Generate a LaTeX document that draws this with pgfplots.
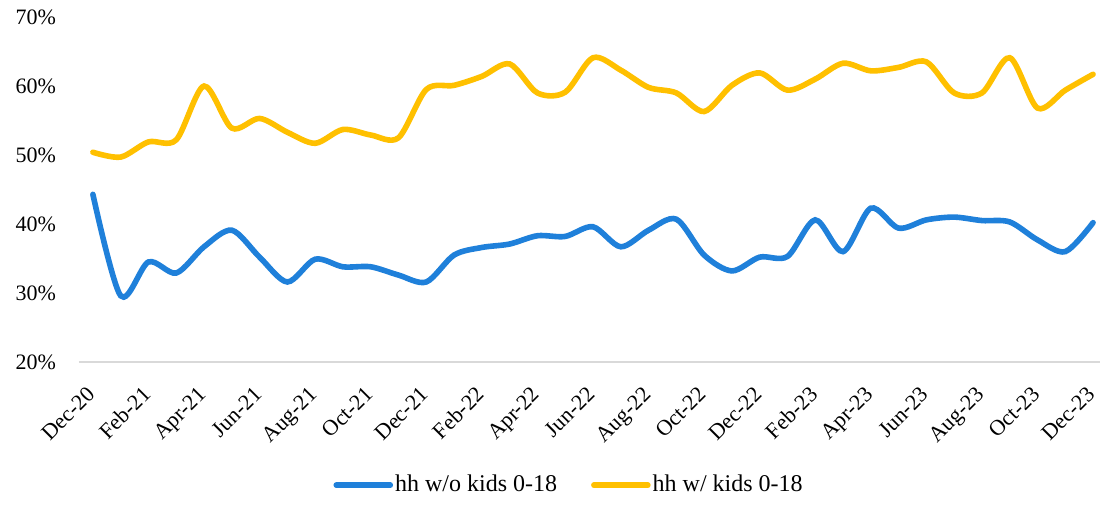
\documentclass[border=0pt]{standalone}
\usepackage{pgfplots}
\pgfplotsset{compat=1.18}
\usepackage{pgfplotstable}
\usepackage{fontspec}
\setmainfont{Liberation Serif}

\definecolor{hhblue}{HTML}{1F80DA}
\definecolor{hhgold}{HTML}{FFC000}

% month index (0 = Dec-20), share in %
\pgfplotstableread{
m  nokids kids
0  44.3   50.4
1  29.6   49.7
2  34.5   51.9
3  32.9   52.2
4  36.7   60.0
5  39.1   53.9
6  35.2   55.3
7  31.6   53.3
8  34.9   51.7
9  33.8   53.7
10 33.8   52.9
11 32.6   52.5
12 31.6   59.5
13 35.5   60.1
14 36.6   61.4
15 37.1   63.2
16 38.3   59.0
17 38.2   59.1
18 39.6   64.1
19 36.7   62.3
20 39.1   59.8
21 40.7   59.0
22 35.5   56.3
23 33.2   60.1
24 35.2   61.9
25 35.3   59.4
26 40.6   61.0
27 36.0   63.3
28 42.3   62.2
29 39.4   62.7
30 40.6   63.5
31 41.0   59.0
32 40.5   59.0
33 40.3   64.1
34 37.7   56.8
35 36.0   59.4
36 40.2   61.7
}\hhdata

\begin{document}
\begin{tikzpicture}
\useasboundingbox (-39.5pt,-71.5pt) rectangle (511pt,181pt);
\begin{axis}[
  at={(0pt,0pt)}, anchor=south west,
  scale only axis,
  width=510.5pt, height=172.5pt,
  font=\fontsize{11}{13}\selectfont,
  xmin=-0.5, xmax=36.25,
  ymin=20, ymax=70,
  xtick={0,2,...,36},
  xticklabels={Dec-20,Feb-21,Apr-21,Jun-21,Aug-21,Oct-21,Dec-21,Feb-22,Apr-22,Jun-22,Aug-22,Oct-22,Dec-22,Feb-23,Apr-23,Jun-23,Aug-23,Oct-23,Dec-23},
  ytick={20,30,40,50,60,70},
  yticklabels={20\%,30\%,40\%,50\%,60\%,70\%},
  major tick length=0pt,
  axis x line*=bottom,
  axis y line*=left,
  x axis line style={draw=black!15, line width=0.75pt, -},
  y axis line style={draw=none},
  xticklabel style={xshift=-3.5pt, yshift=-10pt, rotate=45, anchor=north east, inner sep=1pt},
  yticklabel style={xshift=-8pt},
  legend columns=2,
  legend style={draw=none, at={(0.48,-0.357)}, anchor=center,
    font=\fontsize{12}{14}\selectfont,
    nodes={inner xsep=1pt},
    /tikz/every even column/.append style={column sep=16pt}},
  legend image code/.code={\draw[#1, line cap=round] (0pt,0pt) -- (27pt,0pt);},
]
\addplot[hhblue, line width=2.8pt, smooth, tension=0.5, line cap=round]
  table[x=m, y=nokids] {\hhdata};
\addlegendentry{hh w/o kids 0-18}
\addplot[hhgold, line width=2.8pt, smooth, tension=0.5, line cap=round]
  table[x=m, y=kids] {\hhdata};
\addlegendentry{hh w/ kids 0-18}
\end{axis}
\end{tikzpicture}
\end{document}
